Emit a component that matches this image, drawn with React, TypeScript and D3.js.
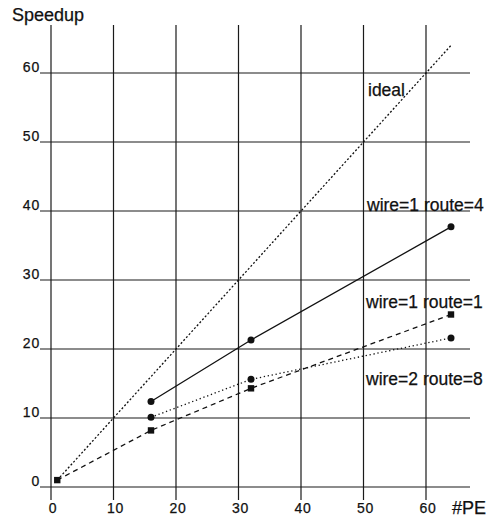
import * as d3 from "d3";

// ── Data ─────────────────────────────────────────────────────────────────────
const GRID_TICKS = [0, 10, 20, 30, 40, 50, 60];

const IDEAL_PE = [1, 64];
const IDEAL_SPEEDUP = [1, 64];

const R4_PE = [16, 32, 64];
const R4_SPEEDUP = [12.4, 21.3, 37.7];

const R1_PE = [1, 16, 32, 64];
const R1_SPEEDUP = [1, 8.2, 14.3, 25.0];

const R8_PE = [16, 32, 64];
const R8_SPEEDUP = [10.1, 15.6, 21.6];

const W = 498;
const H = 518;
const FONT = "'Liberation Sans', Arial, Helvetica, sans-serif";
const INK = "#111";

const x = d3.scaleLinear().domain([0, 60]).range([51, 426]);
const y = d3.scaleLinear().domain([0, 60]).range([487, 73]);

const toPts = (xs: number[], ys: number[]) => xs.map((v, i) => [v, ys[i]] as [number, number]);
const line = d3.line<[number, number]>().x(d => x(d[0])).y(d => y(d[1]));

export default function App() {
  const ideal = toPts(IDEAL_PE, IDEAL_SPEEDUP);
  const r4 = toPts(R4_PE, R4_SPEEDUP);
  const r1 = toPts(R1_PE, R1_SPEEDUP);
  const r8 = toPts(R8_PE, R8_SPEEDUP);

  return (
    <svg
      width={W}
      height={H}
      viewBox={`0 0 ${W} ${H}`}
      style={{ position: "absolute", left: 0, top: 0, background: "#fff" }}
    >
      {/* grid */}
      <g stroke="#1a1a1a" strokeWidth={1.2}>
        {GRID_TICKS.map(t => (
          <line key={"h" + t} x1={40} x2={470} y1={y(t)} y2={y(t)} />
        ))}
        {GRID_TICKS.map(t => (
          <line key={"v" + t} x1={x(t)} x2={x(t)} y1={25} y2={500} />
        ))}
      </g>

      {/* tick labels */}
      <g fontFamily={FONT} fontSize={14} letterSpacing={0.8} fill={INK} stroke={INK} strokeWidth={0.25}>
        {GRID_TICKS.map(t => (
          <text key={"yl" + t} x={40} y={y(t) - 1} textAnchor="end">{t}</text>
        ))}
        {GRID_TICKS.map(t => (
          <text key={"xl" + t} x={x(t) + 2} y={513} textAnchor="middle">{t}</text>
        ))}
      </g>

      <g fontFamily={FONT} fontSize={18} fill={INK} stroke={INK} strokeWidth={0.25}>
        <text x={12} y={21}>Speedup</text>
        <text x={452} y={514}>#PE</text>
      </g>

      {/* series */}
      <path d={line(ideal) ?? ""} fill="none" stroke={INK} strokeWidth={1.3} strokeDasharray="2,2" />
      <path d={line(r4) ?? ""} fill="none" stroke={INK} strokeWidth={1.3} />
      <path d={line(r1) ?? ""} fill="none" stroke={INK} strokeWidth={1.3} strokeDasharray="5,4" />
      <path d={line(r8) ?? ""} fill="none" stroke={INK} strokeWidth={1.3} strokeDasharray="1.3,2.7" />

      {/* markers */}
      {r4.map((d, i) => (
        <circle key={"c4" + i} cx={x(d[0])} cy={y(d[1])} r={3.5} fill={INK} />
      ))}
      {r8.map((d, i) => (
        <circle key={"c8" + i} cx={x(d[0])} cy={y(d[1])} r={3.5} fill={INK} />
      ))}
      {r1.map((d, i) => (
        <rect key={"s1" + i} x={x(d[0]) - 3.2} y={y(d[1]) - 3.2} width={6.4} height={6.4} fill={INK} />
      ))}

      {/* series labels */}
      <g fontFamily={FONT} fontSize={17.5} fill={INK} stroke={INK} strokeWidth={0.25}>
        <text x={368} y={96}>ideal</text>
        <text x={367} y={211}>wire=1 route=4</text>
        <text x={366} y={308}>wire=1 route=1</text>
        <text x={366} y={385}>wire=2 route=8</text>
      </g>
    </svg>
  );
}
